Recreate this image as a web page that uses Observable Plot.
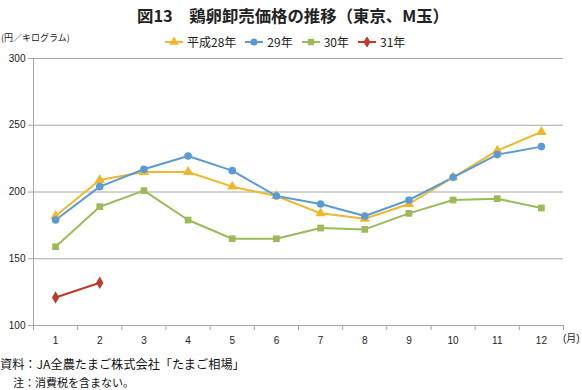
<!DOCTYPE html>
<html><head><meta charset="utf-8">
<script src="https://cdn.jsdelivr.net/npm/d3@7"></script>
<script src="https://cdn.jsdelivr.net/npm/@observablehq/plot@0.6"></script>
<style>
body{margin:0;background:#fff;font-family:"Liberation Sans","Noto Sans CJK JP",sans-serif;color:#222;}
#wrap{position:relative;width:582px;height:390px;overflow:hidden;background:#fff;}
#chart{position:absolute;left:0;top:0;}
.abs{position:absolute;white-space:nowrap;line-height:1;}
#title{left:2px;width:582px;top:7px;text-align:center;font-family:"Noto Sans CJK JP",sans-serif;font-weight:bold;font-size:16.4px;color:#222;}
#unit{left:1px;top:33px;font-size:9px;font-family:"Noto Sans CJK JP",sans-serif;}
#legend{left:165px;top:36px;display:flex;align-items:center;font-size:12px;font-family:"Noto Sans CJK JP",sans-serif;}
#legend .item{display:flex;align-items:center;margin-right:9px;}
#legend svg{margin-right:4px;}
#month{left:563px;top:334px;font-size:10px;font-family:"Liberation Sans","Noto Sans CJK JP",sans-serif;}
#note1{left:0;top:358px;font-size:12.2px;font-family:"Noto Sans CJK JP",sans-serif;color:#111;}
#note2{left:13px;top:377px;font-size:11px;font-family:"Noto Sans CJK JP",sans-serif;color:#111;}
</style></head><body>
<div id="wrap">
  <div id="chart"></div>
  <div id="title" class="abs">図13　鶏卵卸売価格の推移（東京、M玉）</div>
  <div id="unit" class="abs">(円／キログラム)</div>
  <div id="legend" class="abs"></div>
  <div id="month" class="abs">(月)</div>
  <div id="note1" class="abs">資料：JA全農たまご株式会社「たまご相場」</div>
  <div id="note2" class="abs">注：消費税を含まない。</div>
</div>
<script>
const months = [1,2,3,4,5,6,7,8,9,10,11,12];
const seriesNames = ["平成28年","29年","30年","31年"];
const h28 = [182,209,215,215,204,197,184,180,191,211,231,245];
const h29 = [179,204,217,227,216,197,191,182,194,211,228,234];
const h30 = [159,189,201,179,165,165,173,172,184,194,195,188];
const h31 = [121,132];
const seriesColors = ["#efb72a","#5b9bd5","#9bbb59","#c0392b"];
const seriesSymbols = ["triangle","circle","square","diamond"];
const yTicks = [100,150,200,250,300];

const allSeries = [h28,h29,h30,h31];
const data = allSeries.flatMap((vals,i)=>vals.map((v,j)=>({series:seriesNames[i],month:months[j],value:v})));
const bounds = d3.range(0, months.length+1).map(k=>k+0.5);

const chart = Plot.plot({
  width:582, height:345,
  marginTop:58, marginBottom:20, marginLeft:33, marginRight:19,
  x:{type:"linear", domain:[0.5,12.5]},
  y:{domain:[100,300]},
  color:{domain:seriesNames, range:seriesColors},
  symbol:{domain:seriesNames, range:seriesSymbols},
  style:{fontFamily:'"Liberation Sans","Noto Sans CJK JP",sans-serif', fontSize:"10px", color:"#222", background:"transparent"},
  marks:[
    Plot.ruleY(yTicks.slice(1), {stroke:"#a6a6a6", strokeWidth:1}),
    Plot.ruleY([100], {stroke:"#a6a6a6", strokeWidth:1}),
    Plot.ruleX([0.5], {stroke:"#a6a6a6", strokeWidth:1}),
    Plot.axisY(yTicks, {tickSize:5, tickPadding:3, stroke:"#a6a6a6", label:null}),
    Plot.axisX(bounds, {tickSize:5, tickFormat:()=>"", stroke:"#a6a6a6", label:null}),
    Plot.axisX(months, {tickSize:0, tickPadding:11, label:null}),
    Plot.line(data, {x:"month", y:"value", z:"series", stroke:"series", strokeWidth:2}),
    Plot.dot(data, {x:"month", y:"value", symbol:"series", fill:"series", r:3.8})
  ]
});
document.getElementById("chart").appendChild(chart);

// legend
const symMap = {triangle:d3.symbolTriangle, circle:d3.symbolCircle, square:d3.symbolSquare, diamond:d3.symbolDiamond};
const legend = d3.select("#legend");
seriesNames.forEach((name,i)=>{
  const item = legend.append("div").attr("class","item");
  const svg = item.append("svg").attr("width",18).attr("height",10);
  svg.append("line").attr("x1",0).attr("x2",18).attr("y1",5).attr("y2",5).attr("stroke",seriesColors[i]).attr("stroke-width",2);
  svg.append("path").attr("transform","translate(9,5)").attr("d",d3.symbol(symMap[seriesSymbols[i]], 40)()).attr("fill",seriesColors[i]);
  item.append("span").text(name);
});
</script>
</body></html>
